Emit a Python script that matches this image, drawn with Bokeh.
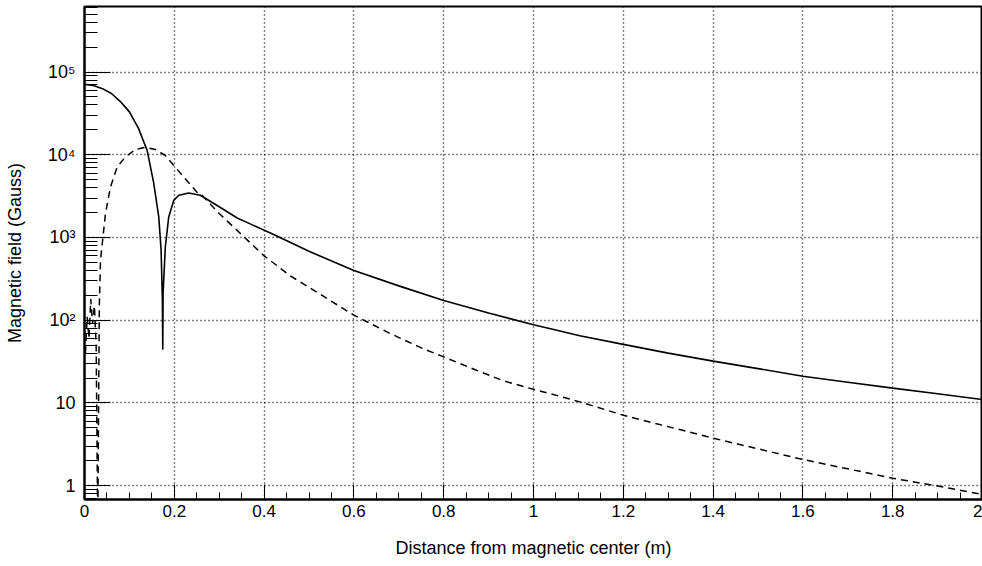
from bokeh.plotting import figure
from bokeh.models import FixedTicker, Range1d
from bokeh.embed import file_html
from bokeh.resources import INLINE

# Solid curve (field component 1)
solid_x = [0.0, 0.02, 0.04, 0.06, 0.08, 0.10, 0.12, 0.1395, 0.154, 0.1654,
           0.1706, 0.1735, 0.1743, 0.175, 0.180, 0.1876, 0.1988, 0.21, 0.232, 0.258,
           0.30, 0.34, 0.369, 0.414, 0.50, 0.60, 0.70, 0.80, 0.90, 1.00,
           1.059, 1.103, 1.20, 1.30, 1.40, 1.50, 1.60, 1.70, 1.80, 1.90, 2.00]
solid_y = [7.1e4, 6.9e4, 6.3e4, 5.5e4, 4.4e4, 3.3e4, 2.1e4, 1.13e4, 4.6e3, 1.77e3,
           7.0e2, 1.74e2, 44, 2.09e2, 7.66e2, 1.77e3, 2.81e3, 3.24e3, 3.45e3, 3.24e3,
           2.35e3, 1.72e3, 1.46e3, 1.13e3, 6.8e2, 4.0e2, 2.6e2, 1.73e2, 1.22e2, 88,
           74, 65, 51, 40, 32, 26, 21, 17.8, 15.1, 12.9, 11.0]

# Dashed curve (field component 2)
dashed_x = [0.002, 0.006, 0.01, 0.014, 0.018, 0.022, 0.026, 0.0295, 0.033, 0.0356,
            0.0467, 0.0578, 0.0727, 0.091, 0.1135, 0.136, 0.158, 0.18, 0.199, 0.221,
            0.25, 0.258, 0.30, 0.35, 0.40, 0.458, 0.532, 0.60, 0.681, 0.755, 0.80,
            0.874, 0.933, 1.00, 1.059, 1.103, 1.20, 1.40, 1.60, 1.80, 1.90, 2.00]
dashed_y = [40, 110, 60, 180, 90, 150, 50, 0.3, 150, 530,
            1.94e3, 4.07e3, 7.1e3, 9.4e3, 1.16e4, 1.23e4, 1.16e4, 9.8e3, 7.4e3, 5.4e3,
            3.54e3, 3.4e3, 1.95e3, 1.08e3, 6.0e2, 3.45e2, 1.95e2, 1.15e2, 69, 45, 36,
            24.7, 18.5, 14.6, 12.0, 10.3, 7.1, 3.75, 2.07, 1.23, 0.99, 0.78]

x_ticks = [0.0, 0.2, 0.4, 0.6, 0.8, 1.0, 1.2, 1.4, 1.6, 1.8, 2.0]
x_tick_labels = ["0", "0.2", "0.4", "0.6", "0.8", "1", "1.2", "1.4", "1.6", "1.8", "2"]
y_ticks = [1, 10, 100, 1000, 10000, 100000]
y_tick_labels = ["1", "10", "10\u00b2", "10\u00b3", "10\u2074", "10\u2075"]

x_label = "Distance from magnetic center (m)"
y_label = "Magnetic field (Gauss)"

x_lo, x_hi = 0.0, 2.0
y_lo, y_hi = 0.68, 6.2e5

x_minor = [round(0.05 * i, 4) for i in range(41)]
y_minor = [k * 10.0 ** n for n in range(-1, 6) for k in range(1, 10)
           if y_lo <= k * 10.0 ** n <= y_hi]

FONT = "Liberation Sans"

p = figure(width=982, height=566, x_range=Range1d(x_lo, x_hi),
           y_range=Range1d(y_lo, y_hi), y_axis_type="log",
           output_backend="svg", toolbar_location=None,
           min_border=0,
           min_border_left=84, min_border_top=6, min_border_bottom=67,
           min_border_right=0)

p.background_fill_color = "white"
p.border_fill_color = "white"
p.outline_line_color = "black"
p.outline_line_width = 2

# grid
for g in (p.xgrid, p.ygrid):
    g.grid_line_color = "black"
    g.grid_line_dash = "1 3"
    g.grid_line_width = 1.4
    g.grid_line_alpha = 1.0
p.xgrid.ticker = FixedTicker(ticks=x_ticks)
p.ygrid.ticker = FixedTicker(ticks=y_ticks)

# x axis
xa = p.xaxis[0]
xa.ticker = FixedTicker(ticks=x_ticks, minor_ticks=x_minor)
xa.major_label_overrides = {t: l for t, l in zip(x_ticks, x_tick_labels)}
xa.major_tick_in = 15
xa.major_tick_out = 0
xa.minor_tick_in = 7
xa.minor_tick_out = 0
xa.axis_line_width = 2
xa.major_tick_line_color = "black"
xa.minor_tick_line_color = "black"
xa.axis_line_color = "black"
xa.major_label_text_font = FONT
xa.major_label_text_font_size = "17px"
xa.major_label_text_color = "black"
xa.major_label_standoff = 5
xa.axis_label = x_label
xa.axis_label_text_font = FONT
xa.axis_label_text_font_size = "18px"
xa.axis_label_text_font_style = "normal"
xa.axis_label_text_color = "black"
xa.axis_label_standoff = 18

# y axis
ya = p.yaxis[0]
ya.ticker = FixedTicker(ticks=y_ticks, minor_ticks=y_minor)
ya.major_label_overrides = {t: l for t, l in zip(y_ticks, y_tick_labels)}
ya.major_tick_in = 26
ya.major_tick_out = 0
ya.minor_tick_in = 13
ya.minor_tick_out = 0
ya.axis_line_width = 2
ya.major_tick_line_color = "black"
ya.minor_tick_line_color = "black"
ya.axis_line_color = "black"
ya.major_label_text_font = FONT
ya.major_label_text_font_size = "18px"
ya.major_label_text_color = "black"
ya.major_label_standoff = 9
ya.axis_label = y_label
ya.axis_label_text_font = FONT
ya.axis_label_text_font_size = "18px"
ya.axis_label_text_font_style = "normal"
ya.axis_label_text_color = "black"
ya.axis_label_standoff = 20

p.line(solid_x, solid_y, line_color="black", line_width=1.6)
p.line(dashed_x, dashed_y, line_color="black", line_width=1.5, line_dash="7 5")

open("out.html", "w").write(file_html(p, INLINE))
